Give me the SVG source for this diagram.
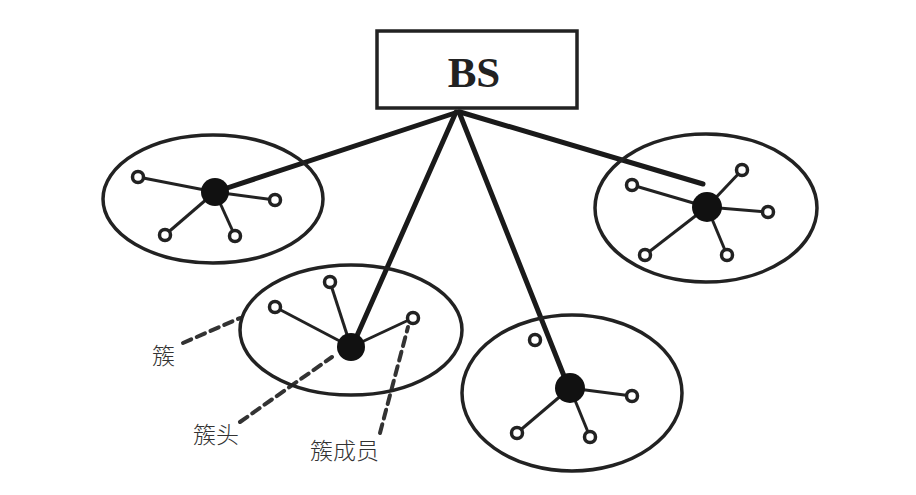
<svg xmlns="http://www.w3.org/2000/svg" width="916" height="495" viewBox="0 0 916 495">
<style>
.cl{fill:none;stroke:#222;stroke-width:3.5}
.sp{stroke:#222;stroke-width:3}
.link{stroke:#1a1a1a;stroke-width:5;stroke-linecap:round}
.head{fill:#111}
.mem{fill:#fff;stroke:#222;stroke-width:3.5}
.dash{stroke:#333;stroke-width:4;stroke-dasharray:9 6;stroke-linecap:round;fill:none}
.lbl{font-family:"Noto Sans CJK SC",sans-serif;font-size:23px;fill:#333;font-weight:300}
</style>
<rect width="916" height="495" fill="#fff"/>
<g id="connectors">
<line class="link" x1="458" y1="112" x2="215" y2="192"/>
<line class="link" x1="460" y1="112" x2="703" y2="184"/>
<line class="link" x1="456" y1="112" x2="352" y2="347"/>
<line class="link" x1="459" y1="112" x2="568" y2="386"/>
<path class="dash" d="M183 343 L240 318"/>
<path class="dash" d="M240 422 L332 357"/>
<path class="dash" d="M380 433 L408 327"/>
</g>
<g id="bs">
<rect x="377" y="31" width="200" height="77" fill="#fff" stroke="#222" stroke-width="3.5"/>
<text x="474" y="87" text-anchor="middle" font-family="Liberation Serif,serif" font-weight="bold" font-size="43" fill="#222">BS</text>
</g>
<g id="cluster-left">
<ellipse class="cl" cx="213" cy="199" rx="110" ry="64"/>
<line class="sp" x1="215" y1="192" x2="138" y2="177"/>
<line class="sp" x1="215" y1="192" x2="275" y2="200"/>
<line class="sp" x1="215" y1="192" x2="165" y2="235"/>
<line class="sp" x1="215" y1="192" x2="235" y2="236"/>
<circle class="head" cx="215" cy="192" r="14"/>
<circle class="mem" cx="138" cy="177" r="5.5"/>
<circle class="mem" cx="275" cy="200" r="5.5"/>
<circle class="mem" cx="165" cy="235" r="5.5"/>
<circle class="mem" cx="235" cy="236" r="5.5"/>
</g>
<g id="cluster-right">
<ellipse class="cl" cx="706" cy="208" rx="111" ry="74"/>
<line class="sp" x1="707" y1="207" x2="632" y2="185"/>
<line class="sp" x1="707" y1="207" x2="742" y2="170"/>
<line class="sp" x1="707" y1="207" x2="768" y2="212"/>
<line class="sp" x1="707" y1="207" x2="645" y2="255"/>
<line class="sp" x1="707" y1="207" x2="727" y2="255"/>
<circle class="head" cx="707" cy="207" r="15"/>
<circle class="mem" cx="632" cy="185" r="5.5"/>
<circle class="mem" cx="742" cy="170" r="5.5"/>
<circle class="mem" cx="768" cy="212" r="5.5"/>
<circle class="mem" cx="645" cy="255" r="5.5"/>
<circle class="mem" cx="727" cy="255" r="5.5"/>
</g>
<g id="cluster-mid">
<ellipse class="cl" cx="351" cy="330" rx="111" ry="65"/>
<line class="sp" x1="351" y1="347" x2="275" y2="307"/>
<line class="sp" x1="351" y1="347" x2="330" y2="282"/>
<line class="sp" x1="351" y1="347" x2="413" y2="318"/>
<circle class="head" cx="351" cy="347" r="14"/>
<circle class="mem" cx="275" cy="307" r="5.5"/>
<circle class="mem" cx="330" cy="282" r="5.5"/>
<circle class="mem" cx="413" cy="318" r="5.5"/>
</g>
<g id="cluster-bottom">
<ellipse class="cl" cx="572" cy="393" rx="110" ry="78"/>
<line class="sp" x1="570" y1="388" x2="632" y2="396"/>
<line class="sp" x1="570" y1="388" x2="517" y2="433"/>
<line class="sp" x1="570" y1="388" x2="590" y2="437"/>
<circle class="head" cx="570" cy="388" r="15"/>
<circle class="mem" cx="535" cy="340" r="5.5"/>
<circle class="mem" cx="632" cy="396" r="5.5"/>
<circle class="mem" cx="517" cy="433" r="5.5"/>
<circle class="mem" cx="590" cy="437" r="5.5"/>
</g>
<g id="labels">
<text class="lbl" x="152" y="364">簇</text>
<text class="lbl" x="193" y="443">簇头</text>
<text class="lbl" x="310" y="459">簇成员</text>
</g>
</svg>
